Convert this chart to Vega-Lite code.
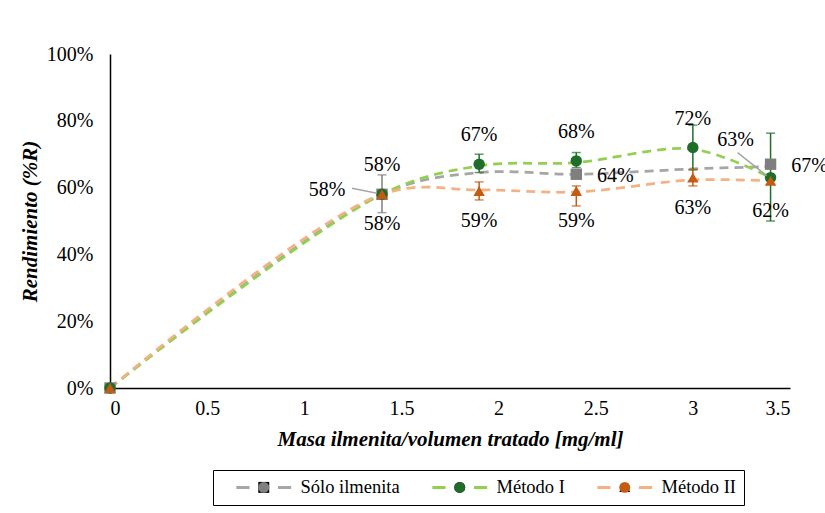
{
  "$schema": "https://vega.github.io/schema/vega-lite/v6.json",
  "width": 680,
  "height": 334,
  "autosize": "none",
  "padding": {"left": 110, "top": 54, "right": 35, "bottom": 125},
  "background": "white",
  "config": {
    "view": {"stroke": null},
    "font": "Liberation Serif",
    "axis": {"grid": false, "ticks": false, "domainColor": "#000000", "domainWidth": 1.5, "labelFont": "Liberation Serif", "labelFontSize": 20, "labelColor": "#000000", "titleFont": "Liberation Serif", "titleFontSize": 21, "titleFontWeight": "bold", "titleFontStyle": "italic", "titleColor": "#000000"}
  },
  "datasets": {
    "curves": [
      {"serie": "Sólo ilmenita ", "x": 0, "y": 0},
      {"serie": "Sólo ilmenita ", "x": 1.4, "y": 0.58},
      {"serie": "Sólo ilmenita ", "x": 1.9, "y": 0.645},
      {"serie": "Sólo ilmenita ", "x": 2.4, "y": 0.64},
      {"serie": "Sólo ilmenita ", "x": 3.0, "y": 0.656},
      {"serie": "Sólo ilmenita ", "x": 3.4, "y": 0.663},
      {"serie": "Método I ", "x": 0, "y": 0},
      {"serie": "Método I ", "x": 1.4, "y": 0.58},
      {"serie": "Método I ", "x": 1.9, "y": 0.665},
      {"serie": "Método I ", "x": 2.4, "y": 0.675},
      {"serie": "Método I ", "x": 3.0, "y": 0.715},
      {"serie": "Método I ", "x": 3.4, "y": 0.63},
      {"serie": "Método II ", "x": 0, "y": 0},
      {"serie": "Método II ", "x": 1.4, "y": 0.58},
      {"serie": "Método II ", "x": 1.9, "y": 0.593},
      {"serie": "Método II ", "x": 2.4, "y": 0.587},
      {"serie": "Método II ", "x": 3.0, "y": 0.623},
      {"serie": "Método II ", "x": 3.4, "y": 0.62}
    ],
    "points": [
      {"series": "Sólo ilmenita", "x": 0, "y": 0},
      {"series": "Sólo ilmenita", "x": 1.4, "y": 0.58},
      {"series": "Sólo ilmenita", "x": 2.4, "y": 0.64},
      {"series": "Sólo ilmenita", "x": 3.4, "y": 0.67},
      {"series": "Método I", "x": 0, "y": 0},
      {"series": "Método I", "x": 1.4, "y": 0.58},
      {"series": "Método I", "x": 1.9, "y": 0.67},
      {"series": "Método I", "x": 2.4, "y": 0.68},
      {"series": "Método I", "x": 3.0, "y": 0.72},
      {"series": "Método I", "x": 3.4, "y": 0.63},
      {"series": "Método II", "x": 0, "y": 0},
      {"series": "Método II", "x": 1.4, "y": 0.58},
      {"series": "Método II", "x": 1.9, "y": 0.59},
      {"series": "Método II", "x": 2.4, "y": 0.59},
      {"series": "Método II", "x": 3.0, "y": 0.63},
      {"series": "Método II", "x": 3.4, "y": 0.62}
    ],
    "errors": [
      {"grupo": "Sólo ilmenita", "x": 1.4, "lo": 0.525, "hi": 0.638},
      {"grupo": "Método I", "x": 1.9, "lo": 0.645, "hi": 0.70},
      {"grupo": "Método I", "x": 2.4, "lo": 0.66, "hi": 0.705},
      {"grupo": "Método I", "x": 3.0, "lo": 0.653, "hi": 0.787},
      {"grupo": "Método I", "x": 3.4, "lo": 0.50, "hi": 0.763},
      {"grupo": "Método II", "x": 1.9, "lo": 0.563, "hi": 0.617},
      {"grupo": "Método II", "x": 2.4, "lo": 0.545, "hi": 0.605},
      {"grupo": "Método II", "x": 3.0, "lo": 0.605, "hi": 0.655},
      {"grupo": "Método II", "x": 3.4, "lo": 0.61, "hi": 0.63}
    ]
  },
  "resolve": {"scale": {"color": "independent"}, "legend": {"color": "independent"}},
  "layer": [
    {
      "data": {"name": "curves"},
      "mark": {"type": "line", "interpolate": "catmull-rom", "strokeWidth": 2.75, "strokeDash": [9, 6]},
      "encoding": {
        "x": {"field": "x", "type": "quantitative", "scale": {"domain": [0, 3.5], "nice": false}, "axis": {"values": [0, 0.5, 1, 1.5, 2, 2.5, 3, 3.5], "format": "~g", "labelPadding": 10, "title": "Masa ilmenita/volumen tratado [mg/ml]", "titlePadding": 10}},
        "y": {"field": "y", "type": "quantitative", "scale": {"domain": [0, 1], "nice": false}, "axis": {"values": [0, 0.2, 0.4, 0.6, 0.8, 1], "format": ".0%", "labelPadding": 17, "title": "Rendimiento (%R)", "titlePadding": 6}},
        "stroke": {"field": "serie", "type": "nominal", "scale": {"domain": ["Sólo ilmenita ", "Método I ", "Método II "], "range": ["#a6a6a6", "#92d050", "#f4b183"]},
          "legend": {"orient": "none", "legendX": 103, "legendY": 416, "direction": "horizontal", "title": null, "symbolType": "M-5,0H-2.6M2.6,0H5", "symbolSize": 120, "symbolOffset": 33.5, "symbolStrokeWidth": 3, "labelOffset": 27.5, "columnPadding": 17, "labelFont": "Liberation Serif", "labelFontSize": 18.5, "labelColor": "#000000", "strokeColor": "#000000", "padding": 8}},
        "detail": {"field": "serie"},
        "order": {"field": "x", "type": "quantitative"}
      }
    },
    {
      "data": {"name": "errors"},
      "mark": {"type": "rule", "strokeWidth": 1.5},
      "encoding": {
        "x": {"field": "x", "type": "quantitative"},
        "y": {"field": "lo", "type": "quantitative"},
        "y2": {"field": "hi"},
        "color": {"field": "grupo", "type": "nominal", "scale": {"domain": ["Sólo ilmenita", "Método I", "Método II"], "range": ["#7f7f7f", "#1e6e2a", "#c55a11"]}, "legend": null}
      }
    },
    {
      "data": {"name": "errors"},
      "mark": {"type": "tick", "orient": "horizontal", "size": 9, "thickness": 1.5},
      "encoding": {
        "x": {"field": "x", "type": "quantitative"},
        "y": {"field": "lo", "type": "quantitative"},
        "color": {"field": "grupo", "type": "nominal", "scale": {"domain": ["Sólo ilmenita", "Método I", "Método II"], "range": ["#7f7f7f", "#1e6e2a", "#c55a11"]}, "legend": null}
      }
    },
    {
      "data": {"name": "errors"},
      "mark": {"type": "tick", "orient": "horizontal", "size": 9, "thickness": 1.5},
      "encoding": {
        "x": {"field": "x", "type": "quantitative"},
        "y": {"field": "hi", "type": "quantitative"},
        "color": {"field": "grupo", "type": "nominal", "scale": {"domain": ["Sólo ilmenita", "Método I", "Método II"], "range": ["#7f7f7f", "#1e6e2a", "#c55a11"]}, "legend": null}
      }
    },
    {
      "data": {"name": "points"},
      "mark": {"type": "point", "filled": true, "opacity": 1, "size": 130},
      "encoding": {
        "x": {"field": "x", "type": "quantitative"},
        "y": {"field": "y", "type": "quantitative"},
        "color": {"field": "series", "type": "nominal", "scale": {"domain": ["Sólo ilmenita", "Método I", "Método II"], "range": ["#7f7f7f", "#1e6e2a", "#c55a11"]},
          "legend": {"orient": "none", "legendX": 103, "legendY": 416, "direction": "horizontal", "title": null, "symbolSize": 120, "symbolOffset": 33.5, "labelOffset": 27.5, "labelOpacity": 0, "columnPadding": 17, "labelFont": "Liberation Serif", "labelFontSize": 18.5, "padding": 8, "symbolStrokeWidth": 0}},
        "shape": {"field": "series", "type": "nominal", "scale": {"domain": ["Sólo ilmenita", "Método I", "Método II"], "range": ["square", "circle", "triangle-up"]},
          "legend": {"orient": "none", "legendX": 103, "legendY": 416, "direction": "horizontal", "title": null, "symbolSize": 120, "symbolOffset": 33.5, "labelOffset": 27.5, "labelOpacity": 0, "columnPadding": 17, "labelFont": "Liberation Serif", "labelFontSize": 18.5, "padding": 8, "symbolStrokeWidth": 0}}
      }
    },
    {
      "data": {"name": "points"},
      "transform": [{"filter": "datum.series == 'Sólo ilmenita' && datum.x == 1.4"}],
      "mark": {"type": "rule", "color": "#a6a6a6", "strokeWidth": 1.5, "xOffset": -30, "yOffset": -6, "x2Offset": -5, "y2Offset": -1},
      "encoding": {"x": {"field": "x", "type": "quantitative"}, "y": {"field": "y", "type": "quantitative"}, "x2": {"field": "x"}, "y2": {"field": "y"}}
    },
    {
      "data": {"name": "points"},
      "transform": [{"filter": "datum.series == 'Método I' && datum.x == 3.4"}],
      "mark": {"type": "rule", "color": "#a6a6a6", "strokeWidth": 1.5, "xOffset": -33, "yOffset": -25, "x2Offset": -4, "y2Offset": -2},
      "encoding": {"x": {"field": "x", "type": "quantitative"}, "y": {"field": "y", "type": "quantitative"}, "x2": {"field": "x"}, "y2": {"field": "y"}}
    },
    {
      "data": {"name": "points"},
      "transform": [{"filter": "datum.series == 'Método I' && datum.x > 0 && datum.x < 3.3"}],
      "mark": {"type": "text", "fontSize": 20, "font": "Liberation Serif", "color": "#000000", "dy": -29},
      "encoding": {"x": {"field": "x", "type": "quantitative"}, "y": {"field": "y", "type": "quantitative"}, "text": {"field": "y", "type": "quantitative", "format": ".0%"}}
    },
    {
      "data": {"name": "points"},
      "transform": [{"filter": "datum.series == 'Método I' && datum.x == 3.4"}],
      "mark": {"type": "text", "fontSize": 20, "font": "Liberation Serif", "color": "#000000", "dx": -35, "dy": -38},
      "encoding": {"x": {"field": "x", "type": "quantitative"}, "y": {"field": "y", "type": "quantitative"}, "text": {"field": "y", "type": "quantitative", "format": ".0%"}}
    },
    {
      "data": {"name": "points"},
      "transform": [{"filter": "datum.series == 'Método II' && datum.x > 0"}],
      "mark": {"type": "text", "fontSize": 20, "font": "Liberation Serif", "color": "#000000", "dy": 30},
      "encoding": {"x": {"field": "x", "type": "quantitative"}, "y": {"field": "y", "type": "quantitative"}, "text": {"field": "y", "type": "quantitative", "format": ".0%"}}
    },
    {
      "data": {"name": "points"},
      "transform": [{"filter": "datum.series == 'Sólo ilmenita' && datum.x == 1.4"}],
      "mark": {"type": "text", "fontSize": 20, "font": "Liberation Serif", "color": "#000000", "dx": -55, "dy": -4},
      "encoding": {"x": {"field": "x", "type": "quantitative"}, "y": {"field": "y", "type": "quantitative"}, "text": {"field": "y", "type": "quantitative", "format": ".0%"}}
    },
    {
      "data": {"name": "points"},
      "transform": [{"filter": "datum.series == 'Sólo ilmenita' && datum.x > 2"}],
      "mark": {"type": "text", "fontSize": 20, "font": "Liberation Serif", "color": "#000000", "dx": 39, "dy": 2},
      "encoding": {"x": {"field": "x", "type": "quantitative"}, "y": {"field": "y", "type": "quantitative"}, "text": {"field": "y", "type": "quantitative", "format": ".0%"}}
    }
  ]
}
